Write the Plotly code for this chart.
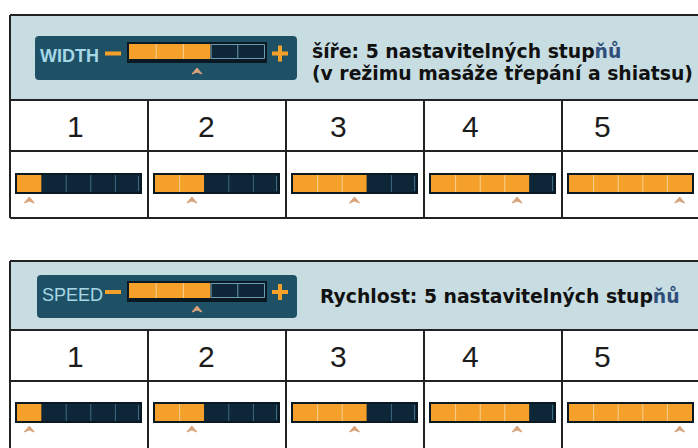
import plotly.graph_objects as go

# ---------------- data ----------------
levels = [1, 2, 3, 4, 5]
level_labels = ["1", "2", "3", "4", "5"]
n_segments = 5
badge_level = 3
badge_names = ["WIDTH", "SPEED"]
desc_lines = [
    ["šíře: 5 nastavitelných stup<span style='color:#2f4f7a'>ňů</span>",
     "(v režimu masáže třepání a shiatsu)"],
    ["Rychlost: 5 nastavitelných stup<span style='color:#2f4f7a'>ňů</span>"],
]

# ---------------- style / layout ----------------
W, H = 698, 448
ORANGE = "#f4a02a"
ORANGE_LINE = "#f8cf94"
NAVY = "#0d2638"
NAVY_LINE = "#3d6b82"
FRAME = "#0a1822"
HEADER_BG = "#c8dde2"
BADGE_BG = "#1f5166"
CARET = "#d9a47a"
BORDER = "#222222"

table_left = 10
col_w = 138
table_right = 700
tables = [
    dict(top=15, header_bottom=100, num_bottom=151, bottom=218, bar_y=173, badge=(35, 36, 297, 80),
         text_x=310, text_ys=[51, 73]),
    dict(top=261, header_bottom=330, num_bottom=381, bottom=460, bar_y=402, badge=(37, 275, 297, 318),
         text_x=318, text_ys=[296]),
]

shapes = []
annotations = []


def rect(x0, y0, x1, y1, fill, line_color=None, lw=0):
    shapes.append(dict(type="rect", x0=x0, y0=y0, x1=x1, y1=y1, fillcolor=fill,
                       line=dict(color=line_color or fill, width=lw), layer="above"))


def vline(x, y0, y1, color, lw=1):
    shapes.append(dict(type="line", x0=x, x1=x, y0=y0, y1=y1, line=dict(color=color, width=lw)))


def hline(y, x0, x1, color, lw=1):
    shapes.append(dict(type="line", x0=x0, x1=x1, y0=y, y1=y, line=dict(color=color, width=lw)))


def caret(cx, cy):
    path = f"M {cx-5},{cy+3} L {cx},{cy-3} L {cx+5},{cy+3} L {cx},{cy+1} Z"
    shapes.append(dict(type="path", path=path, fillcolor=CARET, line=dict(color=CARET, width=1)))


def level_bar(x0, y0, w, h, filled, badge=False):
    rect(x0, y0, x0 + w, y0 + h, FRAME)
    ix0, iy0, iw, ih = x0 + 2, y0 + 2, w - 4, h - 4
    if badge:
        ih = h - 6
    seg = iw / n_segments
    fx = ix0 + filled * seg
    rect(ix0, iy0, fx, iy0 + ih, ORANGE)
    if filled < n_segments:
        rect(fx, iy0, ix0 + iw, iy0 + ih, NAVY)
    for k in range(1, n_segments):
        xx = ix0 + k * seg
        if k < filled:
            vline(xx, iy0, iy0 + ih, ORANGE_LINE, 1)
        elif k > filled:
            vline(xx, iy0, iy0 + ih, NAVY_LINE if not badge else "#6b9bb0", 1)
    if filled < n_segments:
        if badge:
            shapes.append(dict(type="rect", x0=fx + 0.5, y0=iy0 + 0.5, x1=ix0 + iw - 0.5, y1=iy0 + ih - 0.5,
                               line=dict(color="#6b9bb0", width=1), fillcolor="rgba(0,0,0,0)"))
        else:
            vline(ix0 + iw - 1.5, iy0 + 1, iy0 + ih - 1, NAVY_LINE, 1)
    return ix0 + (filled - 0.5) * seg


def rounded(x0, y0, x1, y1, r, fill):
    path = (f"M {x0+r},{y0} L {x1-r},{y0} Q {x1},{y0} {x1},{y0+r} L {x1},{y1-r} Q {x1},{y1} {x1-r},{y1} "
            f"L {x0+r},{y1} Q {x0},{y1} {x0},{y1-r} L {x0},{y0+r} Q {x0},{y0} {x0+r},{y0} Z")
    shapes.append(dict(type="path", path=path, fillcolor=fill, line=dict(width=0)))


for ti, t in enumerate(tables):
    # header background
    rect(table_left, t["top"], table_right, t["header_bottom"], HEADER_BG)
    # badge
    bx0, by0, bx1, by1 = t["badge"]
    rounded(bx0, by0, bx1, by1, 4, BADGE_BG)
    bmid = (by0 + by1) / 2
    annotations.append(dict(x=bx0 + 3, y=bmid - 2, text=badge_names[ti], showarrow=False,
                            xanchor="left", yanchor="middle",
                            font=dict(family="Liberation Sans", size=18,
                                      color="#a6d8e8", weight="bold" if ti == 0 else "normal")))
    # minus
    rect(105, bmid - 6.5, 121, bmid - 2.5, ORANGE)
    # plus
    rect(272, bmid - 6.5, 288, bmid - 2.5, ORANGE)
    rect(278, bmid - 12.5, 282, bmid + 3.5, ORANGE)
    cx = level_bar(127, by0 + 6, 140, 21, badge_level, badge=True)
    caret(cx, by1 - 9)
    # description
    for li, line in enumerate(desc_lines[ti]):
        annotations.append(dict(x=t["text_x"], y=t["text_ys"][li], text=line, showarrow=False,
                                xanchor="left", yanchor="middle", align="left",
                                font=dict(family="DejaVu Sans", size=18.8, color="#111111", weight="bold")))
    # cells
    for i, lv in enumerate(levels):
        cl = table_left + i * col_w
        cc = cl + col_w / 2
        annotations.append(dict(x=cc - 4 - 6.2 * i, y=(t["header_bottom"] + t["num_bottom"]) / 2 + 1,
                                text=level_labels[i], showarrow=False, xanchor="center", yanchor="middle",
                                font=dict(family="Liberation Sans", size=30, color="#1c1c1c")))
        cx = level_bar(cl + 5, t["bar_y"], 127, 21, lv)
        caret(cx, t["bar_y"] + 27)
    # grid lines
    for yy in (t["top"], t["header_bottom"], t["num_bottom"], t["bottom"]):
        hline(yy, table_left, table_right, BORDER, 2)
    vline(table_left, t["top"], t["bottom"], BORDER, 2)
    for i in range(1, len(levels)):
        vline(table_left + i * col_w, t["header_bottom"], t["bottom"], BORDER, 2)

fig = go.Figure()
fig.add_trace(go.Scatter(x=[0, W], y=[0, H], mode="markers", marker=dict(opacity=0), hoverinfo="skip",
                         showlegend=False))
fig.update_layout(
    width=W, height=H, margin=dict(l=0, r=0, t=0, b=0),
    paper_bgcolor="white", plot_bgcolor="white",
    xaxis=dict(range=[0, W], visible=False, fixedrange=True),
    yaxis=dict(range=[H, 0], visible=False, fixedrange=True),
    shapes=shapes, annotations=annotations, showlegend=False,
)
fig.write_html("out.html", config={"displayModeBar": False},
               post_script="document.body.style.margin='0';document.body.style.overflow='hidden';")
